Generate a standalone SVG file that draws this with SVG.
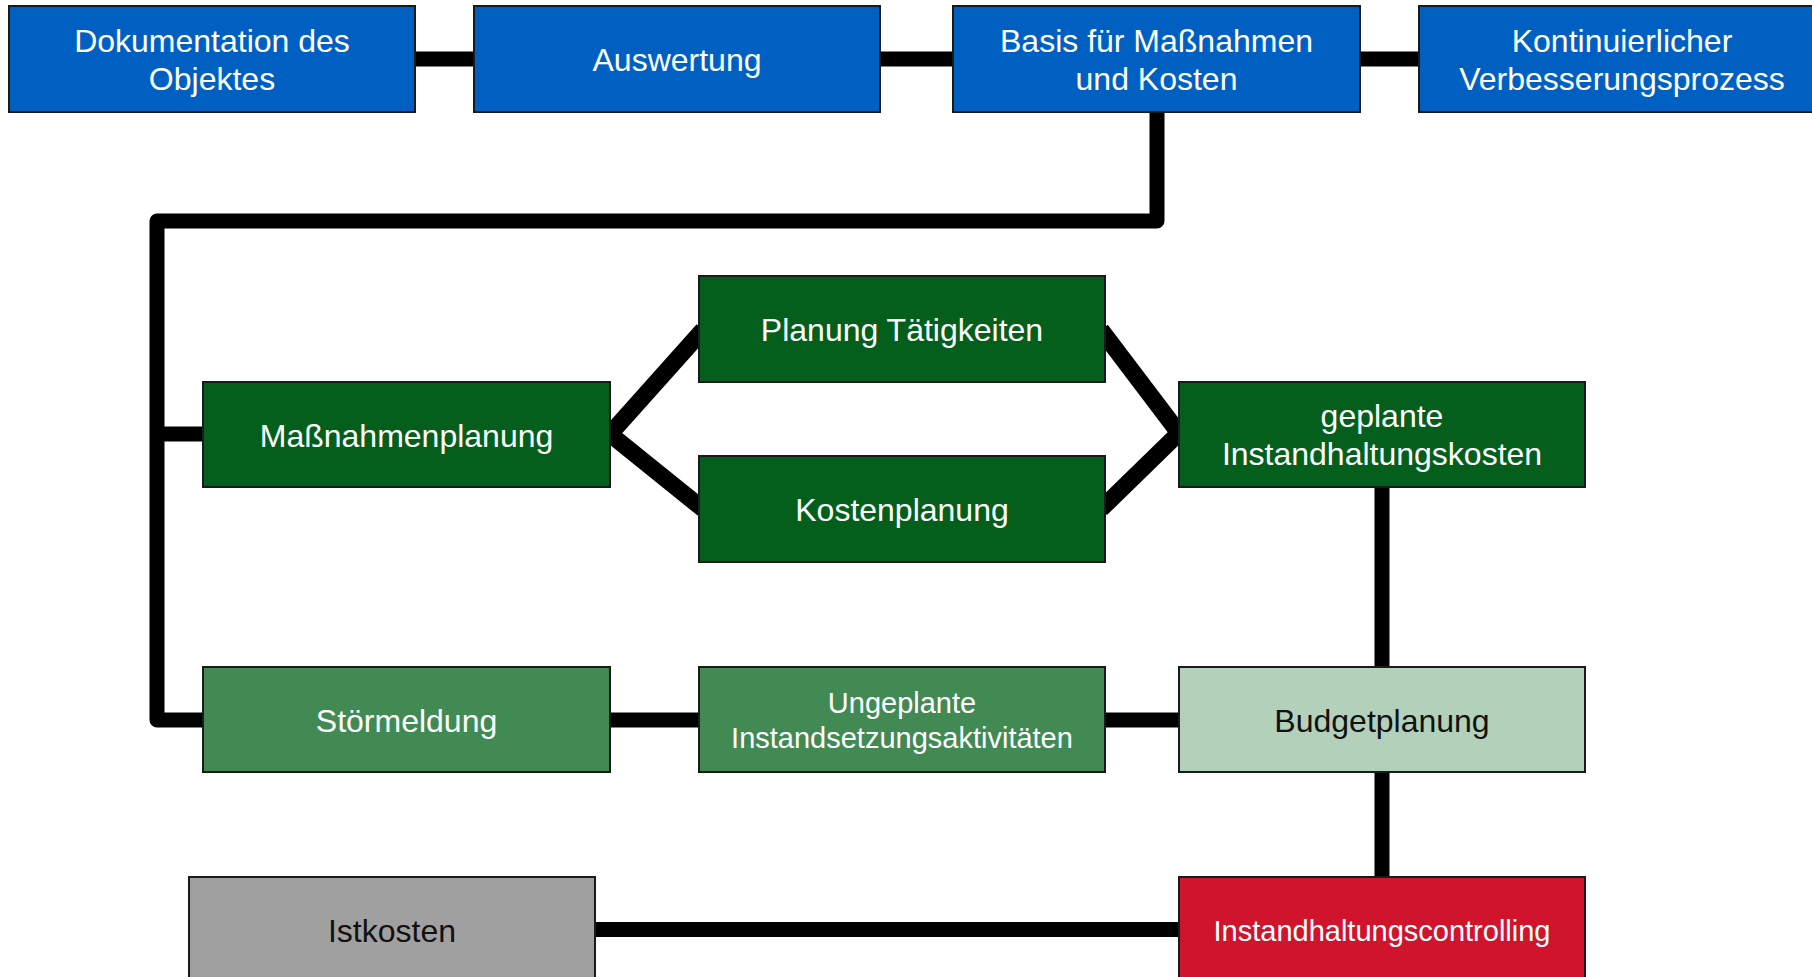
<svg xmlns="http://www.w3.org/2000/svg" width="1812" height="977" viewBox="0 0 1812 977">
<style>
.box{stroke:#1a1a1a;stroke-width:2}
.blue{fill:#0060C2}
.dg{fill:#035F1B}
.mg{fill:#428A53}
.lg{fill:#B3D0BA}
.red{fill:#CF142C}
.gray{fill:#A0A0A0}
text{font-family:"Liberation Sans",Arial,sans-serif;font-size:32px;text-anchor:middle;fill:#ffffff}
.dark{fill:#111111}
.sm{font-size:29px}
.conn path{fill:none;stroke:#000;stroke-width:15;stroke-linejoin:round}
.conn path.diag{stroke-width:17;stroke-linejoin:miter}
</style>
<rect width="1812" height="977" fill="#ffffff"/>
<g class="conn" id="connectors">
<path d="M415,59 H474"/>
<path d="M880,59 H953"/>
<path d="M1360,59 H1419"/>
<path d="M1157,112 V221 H157 V720 H203"/>
<path d="M157,434 H203"/>
<path class="diag" d="M703,330 L610,434 L703,509"/>
<path class="diag" d="M1101,330 L1179,433 L1101,509"/>
<path d="M1382,487 V667"/>
<path d="M610,720 H699"/>
<path d="M1105,720 H1179"/>
<path d="M1382,772 V877"/>
<path d="M595,929.5 H1179"/>
</g>
<g id="n1"><rect class="box blue" x="9" y="6" width="406" height="106"/><text x="212" y="52">Dokumentation des</text><text x="212" y="90">Objektes</text></g>
<g id="n2"><rect class="box blue" x="474" y="6" width="406" height="106"/><text x="677" y="71">Auswertung</text></g>
<g id="n3"><rect class="box blue" x="953" y="6" width="407" height="106"/><text x="1156.5" y="52">Basis für Maßnahmen</text><text x="1156.5" y="90">und Kosten</text></g>
<g id="n4"><rect class="box blue" x="1419" y="6" width="406" height="106"/><text x="1622" y="52">Kontinuierlicher</text><text x="1622" y="90">Verbesserungsprozess</text></g>
<g id="n5"><rect class="box dg" x="203" y="382" width="407" height="105"/><text x="406.5" y="447">Maßnahmenplanung</text></g>
<g id="n6"><rect class="box dg" x="699" y="276" width="406" height="106"/><text x="902" y="341">Planung Tätigkeiten</text></g>
<g id="n7"><rect class="box dg" x="699" y="456" width="406" height="106"/><text x="902" y="521">Kostenplanung</text></g>
<g id="n8"><rect class="box dg" x="1179" y="382" width="406" height="105"/><text x="1382" y="427">geplante</text><text x="1382" y="465">Instandhaltungskosten</text></g>
<g id="n9"><rect class="box mg" x="203" y="667" width="407" height="105"/><text x="406.5" y="732">Störmeldung</text></g>
<g id="n10"><rect class="box mg" x="699" y="667" width="406" height="105"/><text class="sm" x="902" y="713">Ungeplante</text><text class="sm" x="902" y="748">Instandsetzungsaktivitäten</text></g>
<g id="n11"><rect class="box lg" x="1179" y="667" width="406" height="105"/><text class="dark" x="1382" y="732">Budgetplanung</text></g>
<g id="n12"><rect class="box gray" x="189" y="877" width="406" height="106"/><text class="dark" x="392" y="942">Istkosten</text></g>
<g id="n13"><rect class="box red" x="1179" y="877" width="406" height="106"/><text class="sm" x="1382" y="941">Instandhaltungscontrolling</text></g>
</svg>
